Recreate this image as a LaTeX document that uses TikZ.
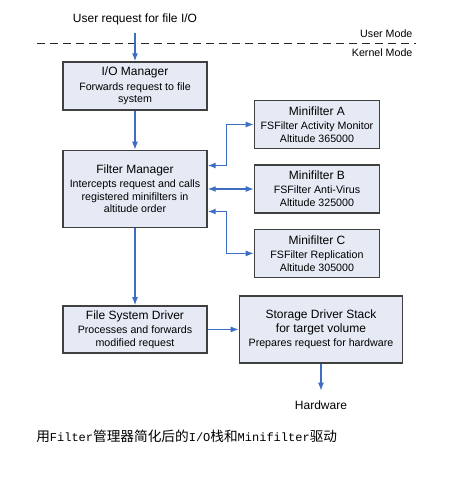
\documentclass[tikz,border=0pt]{standalone}
\usepackage{fontspec}
\setmainfont{Liberation Sans}
\newfontfamily\cjk{Noto Sans CJK SC}
\newfontfamily\capmono{Liberation Mono}
\usepackage{tikz}
\usetikzlibrary{calc,positioning,arrows.meta}
\definecolor{boxfill}{RGB}{230,234,245}
\definecolor{boxline}{RGB}{64,64,64}
\definecolor{arrblue}{RGB}{62,110,196}
\newcommand{\boxtitle}[1]{{\fontsize{9}{10.5}\selectfont #1}}
\newcommand{\capm}[1]{{\capmono\fontsize{9}{11}\selectfont #1}}
\tikzset{
  layer/.style={rectangle, draw=boxline, fill=boxfill, line width=1.1pt, minimum width=108pt, align=center, inner sep=2pt, font=\fontsize{8}{9.5}\selectfont},
  mini/.style={layer, minimum width=93.75pt, minimum height=36pt},
  stack/.style={layer, minimum width=122.25pt, minimum height=50.25pt},
  line/.style={draw=arrblue, line width=0.9pt, -{Latex[length=6pt,width=4.5pt]}},
  dline/.style={line, {Latex[length=6pt,width=4.5pt]}-{Latex[length=6pt,width=4.5pt]}},
  plain/.style={inner sep=0pt, font=\fontsize{9}{10.5}\selectfont},
  mode/.style={inner sep=2.5pt, font=\fontsize{8}{9.5}\selectfont},
}

\begin{document}
\begin{tikzpicture}
  \useasboundingbox (0,0) rectangle (343.5pt,-359.25pt);

  \node[layer, minimum height=36pt] (io) at (101.25pt,-64.5pt) {\boxtitle{I/O Manager}\\[1.5pt]Forwards request to file\\system};
  \node[layer, minimum height=57.75pt, below=29.25pt of io] (fm) {\boxtitle{Filter Manager}\\[1pt]Intercepts request and calls\\registered minifilters in\\altitude order};
  \node[layer, minimum height=35.25pt, below=57.75pt of fm] (fsd) {\boxtitle{File System Driver}\\[1pt]Processes and forwards\\modified request};
  \node[stack, right=23.25pt of fsd] (stor) {\boxtitle{Storage Driver Stack}\\[1pt]\boxtitle{for target volume}\\[1pt]Prepares request for hardware};

  \node[mini, right=34.5pt of fm] (mfb) {\boxtitle{Minifilter B}\\[1pt]FSFilter Anti-Virus\\Altitude 325000};
  \node[mini, above=11.25pt of mfb] (mfa) {\boxtitle{Minifilter A}\\[1pt]FSFilter Activity Monitor\\Altitude 365000};
  \node[mini, below=11.25pt of mfb] (mfc) {\boxtitle{Minifilter C}\\[1pt]FSFilter Replication\\Altitude 305000};

  \node[plain, above=27pt of io] (user) {User request for file I/O};
  \node[plain, below=27.75pt of stor] (hw) {Hardware};

  \coordinate (ml) at (27.75pt,-32.25pt);
  \coordinate (mr) at (312pt,-32.25pt);
  \draw[black!85, line width=0.75pt, dash pattern=on 6pt off 3.75pt] (ml) -- (mr);
  \node[mode, above left=1.5pt and 0pt of mr] (umode) {User Mode};
  \node[mode, below left=1.5pt and 0pt of mr] (kmode) {Kernel Mode};

  \node[anchor=west, inner sep=0pt] (cap) at (27pt,-327pt) {\fontsize{10.25}{12}\selectfont{\cjk 用}\capm{Filter}{\cjk 管理器简化后的}\capm{I/O}{\cjk 栈和}\capm{Minifilter}{\cjk 驱动}};

  \coordinate (elb) at ($(fm.east)!0.41!(mfb.west)$);

  \begin{scope}[every path/.style=line]
    \path[shorten <=6pt] (user) -- (io);
    \path (io) -- (fm);
    \path (fm) -- (fsd);
    \path (fsd) -- (stor);
    \path[shorten >=7.5pt] (stor) -- (hw);

    \path[dline] ([yshift=17.6pt]fm.east) -| (elb |- mfa.west) -- (mfa.west);
    \path[dline] (mfb.west -| fm.east) -- (mfb.west);
    \path[dline] ([yshift=-16.9pt]fm.east) -| (elb |- mfc.west) -- (mfc.west);
  \end{scope}
\end{tikzpicture}
\end{document}
